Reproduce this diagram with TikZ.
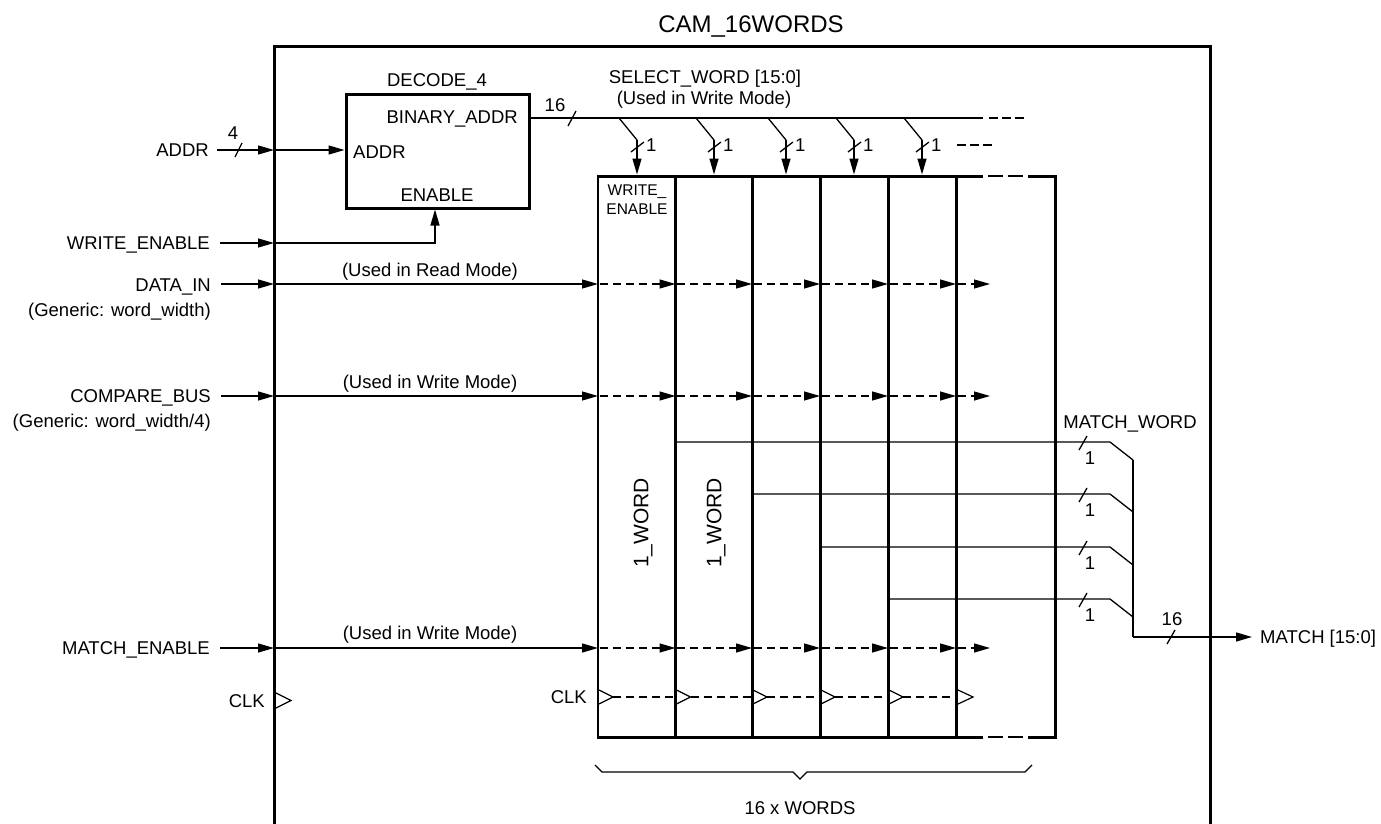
\documentclass[tikz,border=0pt]{standalone}
\usepackage{fontspec}
\setmainfont{Liberation Sans}
\usetikzlibrary{arrows.meta,calc}
\tikzset{
  lbl/.style={font=\fontsize{18.5}{22}\selectfont, inner sep=0pt, text height=13.2pt, text depth=0pt},
  sml/.style={font=\fontsize{15.5}{18}\selectfont, inner sep=0pt, text height=11.1pt, text depth=0pt},
  big/.style={font=\fontsize{24}{28}\selectfont, inner sep=0pt, text height=17.2pt, text depth=0pt},
  wordlbl/.style={font=\fontsize{21}{24}\selectfont, inner sep=0pt, rotate=90},
  heavy/.style={line width=3pt},
  wire/.style={line width=1.3pt},
  arr/.style={wire,-{Triangle[length=16pt,width=9pt]}},
  dsh/.style={wire,dash pattern=on 8pt off 5pt},
  darr/.style={dsh,-{Triangle[length=16pt,width=9pt]}},
  clkw/.style={line width=1.2pt, line join=miter},
  gapdash/.style={line width=2pt},
}
\begin{document}
\begin{tikzpicture}[x=1pt,y=-1pt]
\useasboundingbox (0,0) rectangle (1381,824);

% ---------- outer box ----------
\node[big] (title) at (751,24) {CAM\_16WORDS};
\draw[heavy] (274,840) -- (274,47) -- (1210,47) -- (1210,840);

% ---------- decoder ----------
\node[draw, heavy, minimum width=183pt, minimum height=113pt, inner sep=0pt] (dec) at (437.5,151.5) {};
\node[lbl] (dectitle) at (437,80) {DECODE\_4};
\node[lbl, anchor=east] (binaddr) at (518,117) {BINARY\_ADDR};
\node[lbl, anchor=west] (decaddr) at (353,152) {ADDR};
\node[lbl] (decen) at (437,195) {ENABLE};

% ---------- left labels ----------
\node[lbl, anchor=east] (addr) at (209,150) {ADDR};
\node[lbl, anchor=east] (we) at (210,243) {WRITE\_ENABLE};
\node[lbl, anchor=east] (din) at (211,285) {DATA\_IN};
\node[lbl, anchor=east] (dingen) at (211,310) {(Generic: word\_width)};
\node[lbl, anchor=east] (cmp) at (211,396) {COMPARE\_BUS};
\node[lbl, anchor=east] (cmpgen) at (211,421) {(Generic: word\_width/4)};
\node[lbl, anchor=east] (me) at (210,648) {MATCH\_ENABLE};
\node[lbl, anchor=east] (clk) at (265,701) {CLK};

% box-edge coordinates
\coordinate (bA) at (274,150);
\coordinate (bW) at (274,243);
\coordinate (bD) at (274,284);
\coordinate (bC) at (274,396);
\coordinate (bM) at (274,648);
\coordinate (wcorner) at (435,243);
\coordinate (wtop) at (435,209.5);

% ADDR
\draw[arr] ([xshift=8pt]addr.east |- bA) -- (bA);
\draw[wire] (235,157) -- (242,143);
\node[lbl] (addrw) at (233,133) {4};
\draw[arr] (bA) -- (dec.west |- bA);
% WRITE_ENABLE
\draw[arr] ([xshift=10pt]we.east |- bW) -- (bW);
\draw[arr] (bW) -- (wcorner) -- (wtop);

% inputs to words
\draw[arr] ([xshift=10pt]din.east |- bD) -- (bD);
\draw[arr] ([xshift=10pt]cmp.east |- bC) -- (bC);
\draw[arr] ([xshift=10pt]me.east |- bM) -- (bM);
\coordinate (wD) at (598,284);
\coordinate (wC) at (598,396);
\coordinate (wM) at (598,648);
\draw[arr] (bD) -- (wD);
\draw[arr] (bC) -- (wC);
\draw[arr] (bM) -- (wM);
\node[lbl] (rd) at (430,270) {(Used in Read Mode)};
\node[lbl] (wr1) at (430,382) {(Used in Write Mode)};
\node[lbl] (wr2) at (430,633) {(Used in Write Mode)};

% outer clock triangle
\draw[clkw] (276,693) -- (291,700.5) -- (276,708);

% ---------- select word bus ----------
\coordinate (selS) at (dec.east |- 0,118);
\coordinate (selE) at (983,118);
\draw[wire] (selS) -- (selE);
\draw[wire, dash pattern=on 9pt off 4pt] (989,118) -- (1024,118);
\draw[wire] (568,126) -- (576,111);
\node[lbl] (sel16) at (555,105) {16};
\node[lbl] (selname) at (705,77) {SELECT\_WORD [15:0]};
\node[lbl] (selmode) at (704,98) {(Used in Write Mode)};
\foreach \c [count=\i] in {637,714,786,854,922}{
  \coordinate (tapA\i) at (\c-18,118);
  \coordinate (tapB\i) at (\c,140);
  \coordinate (tapC\i) at (\c,174.5);
  \draw[wire] (tapA\i) -- (tapB\i);
  \draw[arr] (tapB\i) -- (tapC\i);
  \draw[wire] (\c-6,152) -- (\c+7,142);
  \node[lbl, anchor=west] (one\i) at (\c+9,145) {1};
}
\draw[wire, dash pattern=on 9pt off 4pt] (957,145) -- (992,145);

% ---------- word array ----------
\draw[heavy] (983,176) -- (598,176);
\draw[heavy] (983,737) -- (598,737);
\draw[line width=2.2pt] (598,174.5) -- (598,738.5);
\foreach \y in {176,737}{
  \draw[gapdash] (988,\y) -- (1003,\y);
  \draw[gapdash] (1008,\y) -- (1023,\y);
}
\draw[heavy] (1028,176) -- (1055,176) -- (1055,737) -- (1028,737);
\foreach \x in {675.5,752,820,888,956}{
  \draw[heavy] (\x,176) -- (\x,737);
}
\node[sml] (wlbl1) at (637,190) {WRITE\_};
\node[sml] (wlbl2) at (637,209) {ENABLE};
\node[wordlbl] (word1) at (643,523) {1\_WORD};
\node[wordlbl] (word2) at (716,523) {1\_WORD};

% dashed data arrows through the words
\foreach \y in {284,396,648}{
  \foreach \a/\b in {598/675.5,675.5/752,752/820,820/888,888/956,956/990}{
    \draw[darr] (\a+1.5,\y) -- (\b,\y);
  }
}
% clock
\node[lbl, anchor=east] (clkin) at (587,697) {CLK};
\foreach \a/\b in {598/675.5,675.5/752,752/820,820/888,888/956}{
  \draw[clkw] (\a+1,690) -- (\a+15,697) -- (\a+1,704);
  \draw[dsh, line width=1.1pt] (\a+15,697) -- (\b,697);
}
\draw[clkw] (958,690) -- (973,697) -- (958,704);

% ---------- match word ----------
\node[lbl] (mwname) at (1130,422) {MATCH\_WORD};
\foreach \x/\y [count=\i] in {675.5/442,752/494,820/547,888/599}{
  \coordinate (mS\i) at (\x,\y);
  \coordinate (mK\i) at (1110,\y);
  \coordinate (mJ\i) at (1133,\y+18);
  \draw[wire] (mS\i) -- (mK\i) -- (mJ\i);
  \draw[wire] (1079,\y+8) -- (1087,\y-6);
  \node[lbl] (mone\i) at (1090,\y+16) {1};
}
\coordinate (busB) at (1133,637);
\coordinate (busE) at (1252,637);
\node[lbl, anchor=west] (match) at (1260,637) {MATCH [15:0]};
\draw[wire] (mJ1) -- (busB);
\draw[arr] (busB) -- (busE);
\draw[wire] (1167,644) -- (1175,630);
\node[lbl] (m16) at (1172,619) {16};

% ---------- brace ----------
\draw[wire, line join=miter] (595,765) -- (602,772) -- (793,772) -- (800,779) -- (807,772) -- (1025,772) -- (1032,765);
\node[lbl] (nwords) at (800,808) {16 x WORDS};
\end{tikzpicture}
\end{document}
